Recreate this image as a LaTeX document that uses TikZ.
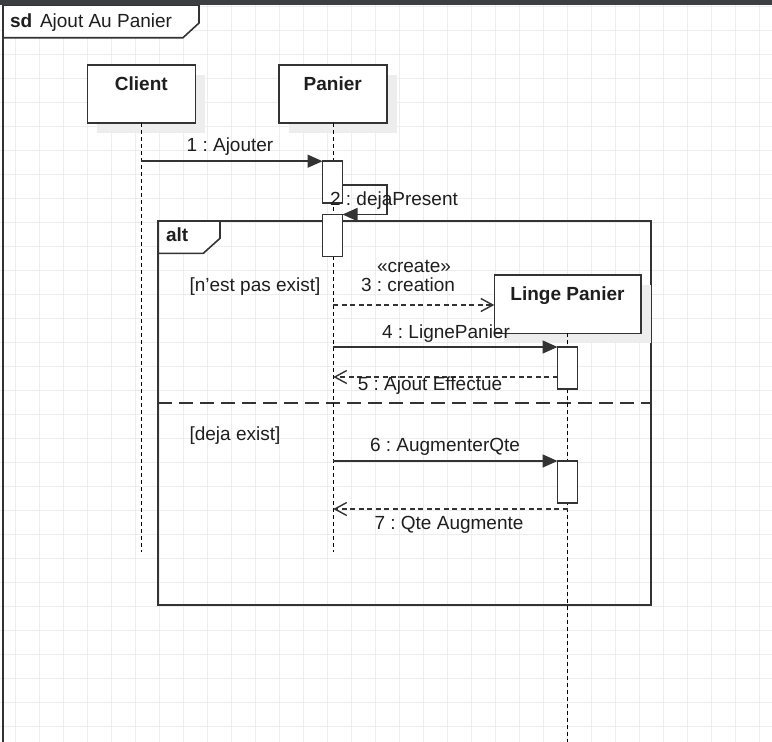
\documentclass[tikz,border=0pt]{standalone}
\usepackage{fontspec}
\setmainfont{Liberation Sans}
\usetikzlibrary{arrows.meta,shadows}

\definecolor{ink}{HTML}{333333}
\definecolor{txt}{HTML}{1E1E1E}
\definecolor{gridc}{HTML}{EDEDED}
\definecolor{shadowc}{HTML}{EDEDED}
\definecolor{barc}{HTML}{3B3F42}

\newcommand\msgfont{\fontsize{19}{22}\selectfont}
\newcommand\headfont{\fontsize{19}{22}\selectfont\bfseries}
\frenchspacing

\begin{document}
\begin{tikzpicture}[x=1pt,y=-1pt,
  every node/.style={inner sep=0pt,outer sep=0pt,text=txt,font=\msgfont},
  head/.style={draw=ink,line width=1.6pt,fill=white,minimum width=108pt,minimum height=58.5pt,
    drop shadow={shadow xshift=10pt,shadow yshift=-10pt,fill=shadowc,opacity=1}},
  actbox/.style={draw=ink,line width=1.6pt,fill=white,minimum width=20pt,minimum height=42pt},
  lifeline/.style={draw=black,line width=1.6pt,dash pattern=on 4pt off 3pt},
  callmsg/.style={draw=ink,line width=1.6pt,-{Triangle[length=15pt,width=13pt]}},
  retmsg/.style={draw=ink,line width=1.4pt,dash pattern=on 5pt off 3.5pt,
    -{Straight Barb[length=12pt,width=13pt]}},
  framebox/.style={draw=ink,line width=1.7pt},
  tag/.style={draw=ink,line width=1.6pt,fill=white}
]
\useasboundingbox (0,0) rectangle (772,742);

% background grid
\foreach \k in {0,...,31} \draw[gridc,line width=1pt] (15.5+24*\k,0) -- (15.5+24*\k,742);
\foreach \k in {0,...,30} \draw[gridc,line width=1pt] (0,6+24*\k) -- (772,6+24*\k);

% sequence diagram frame
\draw[ink,line width=1.8pt] (3,0) -- (3,742);
\draw[tag] (3,5) -- (199,5) -- (199,23) -- (183,37.7) -- (3,37.7) -- cycle;
\fill[barc] (0,0) rectangle (772,5);
\node[anchor=base west,font=\headfont] (sdkw) at (10,27) {sd};
\node[anchor=base west] (sdname) at (40,27) {Ajout Au Panier};

% alt combined fragment
\draw[framebox] (158.3,221) rectangle (651,605);
\draw[ink,line width=2pt,dash pattern=on 14pt off 7pt] (158.3,403.3) -- (651,403.3);
\draw[tag] (158.3,221) -- (220,221) -- (220,238.3) -- (203.3,253.3) -- (158.3,253.3) -- cycle;
\node[anchor=base west,font=\headfont] (altkw) at (166,241.7) {alt};

% lifeline heads
\node[head] (client) at (141.3,94) {};
\node[head] (panier) at (332.7,94) {};
\node[head,minimum width=146.4pt,minimum height=58.3pt] (linge) at (567.5,304.2) {};
\node[anchor=base,font=\headfont] (clientLbl) at (141.3,90) {Client};
\node[anchor=base,font=\headfont] (panierLbl) at (332.7,90) {Panier};
\node[anchor=base,font=\headfont] (lingeLbl) at (567.5,300) {Linge Panier};

% lifelines
\coordinate (clientEnd) at (141.3,552);
\coordinate (panierEnd) at (333.3,552);
\coordinate (lingeEnd) at (567.5,742);
\draw[lifeline] (client.south) -- (clientEnd);
\draw[lifeline] (panier.south -| panierEnd) -- (panierEnd);
\draw[lifeline] (linge.south) -- (lingeEnd);

% activations
\node[actbox] (act1) at (332.5,182.2) {};
\node[actbox] (act2) at (332.5,235.5) {};
\node[actbox] (act3) at (567.5,368) {};
\node[actbox] (act4) at (567.5,482) {};

% message anchor points on the lifelines
\coordinate (loopTop) at (387,185);
\coordinate (loopBot) at (387,214.5);
\coordinate (p3) at (333.3,305);
\coordinate (p4) at (333.3,347);
\coordinate (p5) at (333.3,377);
\coordinate (p6) at (333.3,461);
\coordinate (p7) at (333.3,509);

% messages
\draw[callmsg] (client.south |- act1.north west) -- (act1.north west);
\draw[callmsg] (act1.east |- loopTop) -- (loopTop) -- (loopBot) -- (act2.north east);
\draw[retmsg] (p3) -- (linge.west |- p3);
\draw[callmsg] (p4) -- (act3.north west);
\draw[retmsg] (act3.west |- p5) -- (p5);
\draw[callmsg] (p6) -- (act4.north west);
\draw[retmsg] (linge.south |- p7) -- (p7);

% message labels and guards
\node[anchor=base] (m1) at (230,151) {1 : Ajouter};
\node[anchor=base] (m2) at (394,205) {2 : dejaPresent};
\node[anchor=base] (g1) at (255,291) {[n'est pas exist]};
\node[anchor=base] (m3s) at (414,272.5) {«create»};
\node[anchor=base] (m3) at (408,291.5) {3 : creation};
\node[anchor=base] (m4) at (446,338.3) {4 : LignePanier};
\node[anchor=base] (m5) at (430,390) {5 : Ajout Effectue};
\node[anchor=base] (g2) at (235,440) {[deja exist]};
\node[anchor=base] (m6) at (445,451.7) {6 : AugmenterQte};
\node[anchor=base] (m7) at (449,529) {7 : Qte Augmente};
\end{tikzpicture}
\end{document}
